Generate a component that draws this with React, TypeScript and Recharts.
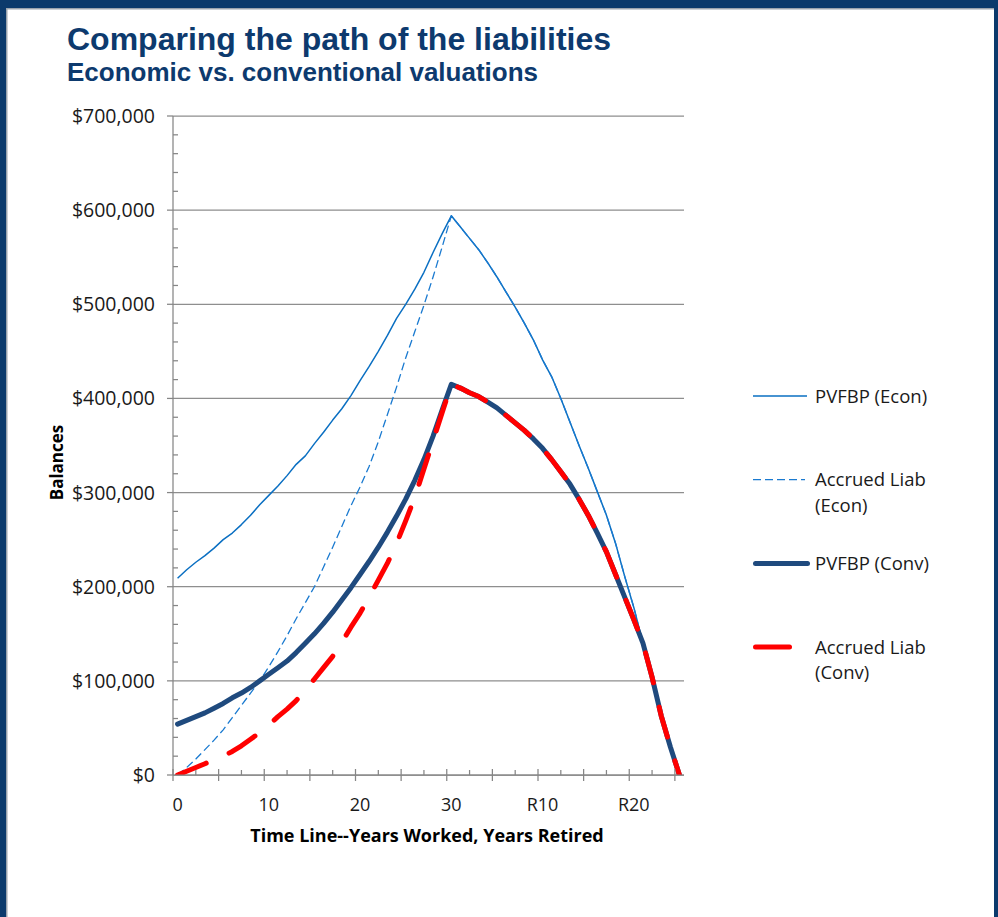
import React from 'react';
import { LineChart, Line, XAxis, YAxis, CartesianGrid } from 'recharts';

// ---------- data ----------
const categories = [
  '0','1','2','3','4','5','6','7','8','9','10','11','12','13','14','15','16','17','18','19','20',
  '21','22','23','24','25','26','27','28','29','30',
  'R1','R2','R3','R4','R5','R6','R7','R8','R9','R10','R11','R12','R13','R14','R15','R16','R17','R18','R19','R20',
  'R21','R22','R23','R24','R25',
];

const pvfbpEcon = [
  209000, 218000, 226000, 233000, 241000, 250000, 257000, 266000, 276000, 287000,
  297000, 307000, 318000, 330000, 339000, 352000, 364000, 377000, 389000, 403000,
  419000, 434000, 450000, 467000, 485000, 500000, 516000, 534000, 555000, 575000,
  594000, 582000, 570000, 558000, 544000, 529000, 513000, 497000, 480000, 462000,
  441000, 423000, 400000, 375000, 350000, 326000, 301000, 276000, 246000, 211000,
  178000, 140000, 104000, 63000, 30000, 0,
];

const accruedEcon = [
  0, 8000, 17000, 27000, 37000, 48000, 61000, 74000, 87000, 100000,
  115000, 131000, 148000, 166000, 183000, 200000, 221000, 242000, 264000, 286000,
  306000, 328000, 354000, 383000, 412000, 443000, 471000, 499000, 529000, 561000,
  594000, 582000, 570000, 558000, 544000, 529000, 513000, 497000, 480000, 462000,
  441000, 423000, 400000, 375000, 350000, 326000, 301000, 276000, 246000, 211000,
  178000, 140000, 104000, 63000, 30000, 0,
];

const pvfbpConv = [
  54000, 58000, 62000, 66000, 71000, 76000, 82000, 87000, 93000, 100000,
  107000, 114000, 121000, 130000, 140000, 150000, 161000, 173000, 186000, 199000,
  213000, 227000, 242000, 258000, 275000, 293000, 313000, 335000, 360000, 388000,
  415000, 411000, 406000, 402000, 396000, 390000, 382000, 374000, 366000, 357000,
  347000, 335000, 322000, 309000, 293000, 276000, 257000, 237000, 213000, 189000,
  165000, 140000, 104000, 63000, 30000, 0,
];

const accruedConv = [
  0, 4000, 8000, 12000, 16000, 20000, 25000, 31000, 38000, 45000,
  53000, 62000, 70000, 79000, 90000, 102000, 114000, 126000, 141000, 157000,
  172000, 189000, 207000, 225000, 246000, 270000, 295000, 325000, 355000, 385000,
  415000, 411000, 406000, 402000, 396000, 390000, 382000, 374000, 366000, 357000,
  347000, 335000, 322000, 309000, 293000, 276000, 257000, 237000, 213000, 189000,
  165000, 140000, 104000, 63000, 30000, 0,
];

// tick definitions
const yMajorTicks = [0, 100000, 200000, 300000, 400000, 500000, 600000, 700000];
const yTickLabels = ['$0', '$100,000', '$200,000', '$300,000', '$400,000', '$500,000', '$600,000', '$700,000'];
const yMinorTicks = [
  20000, 40000, 60000, 80000, 120000, 140000, 160000, 180000, 220000, 240000, 260000, 280000,
  320000, 340000, 360000, 380000, 420000, 440000, 460000, 480000, 520000, 540000, 560000, 580000,
  620000, 640000, 660000, 680000,
];
const xLabelPositions = [0, 10, 20, 30, 40, 50];
const xMajorMarks = [-0.5, 4.5, 9.5, 14.5, 19.5, 24.5, 29.5, 34.5, 39.5, 44.5, 49.5, 54.5];
const xMinorMarks = [2, 7, 12, 17, 22, 27, 32, 37, 42, 47, 52];

const seriesNames = ['PVFBP (Econ)', 'Accrued Liab (Econ)', 'PVFBP (Conv)', 'Accrued Liab (Conv)'];
const legendLines = [['PVFBP (Econ)'], ['Accrued Liab', '(Econ)'], ['PVFBP (Conv)'], ['Accrued Liab', '(Conv)']];

const data = categories.map((c, i) => ({
  x: i,
  cat: c,
  pvfbpEcon: pvfbpEcon[i],
  accruedEcon: accruedEcon[i],
  pvfbpConv: pvfbpConv[i],
  accruedConv: accruedConv[i],
}));

// ---------- styles ----------
const FONT = "'Open Sans', sans-serif";
const AXIS = '#868686';
const NAVY = '#0b3a6c';
const series = [
  { key: 'pvfbpEcon', color: '#0a6fc2', width: 1.5, dash: undefined as string | undefined, sampleLen: 54 },
  { key: 'accruedEcon', color: '#1a7ad0', width: 1.3, dash: '8 4', sampleLen: 52 },
  { key: 'pvfbpConv', color: '#1f4a7e', width: 5, dash: undefined, sampleLen: 52 },
  { key: 'accruedConv', color: '#ff0000', width: 5, dash: '31 25', sampleLen: 34 },
];

const allYTicks = [...yMajorTicks, ...yMinorTicks].sort((a, b) => a - b);
const allXTicks = [...xMajorMarks, ...xMinorMarks, ...xLabelPositions].sort((a, b) => a - b);

const YTick = (props: any) => {
  const { x, y, payload } = props;
  const v = payload.value;
  const mi = yMajorTicks.indexOf(v);
  if (mi >= 0) {
    return (
      <g>
        <line x1={x - 6} x2={x} y1={y} y2={y} stroke={AXIS} strokeWidth={1.25} />
        <text x={x - 18} y={y} dy="0.36em" textAnchor="end" fontFamily={FONT} fontSize={19.5} fill="#1a1a1a">
          {yTickLabels[mi]}
        </text>
      </g>
    );
  }
  return <line x1={x} x2={x + 5} y1={y} y2={y} stroke={AXIS} strokeWidth={1.25} />;
};

const XTick = (props: any) => {
  const { x, y, payload } = props;
  const v = payload.value;
  if (xLabelPositions.includes(v)) {
    return (
      <text x={x} y={y + 36} textAnchor="middle" fontFamily={FONT} fontSize={18} fill="#1a1a1a">
        {categories[v]}
      </text>
    );
  }
  if (xMajorMarks.includes(v)) {
    return <line x1={x} x2={x} y1={y - 6} y2={y + 6} stroke={AXIS} strokeWidth={1.25} />;
  }
  return <line x1={x} x2={x} y1={y - 5} y2={y} stroke={AXIS} strokeWidth={1.25} />;
};

export default function App() {
  return (
    <div style={{ position: 'fixed', left: 0, top: 0, width: 998, height: 917, overflow: 'hidden', background: '#fff' }}>
      <div style={{ position: 'absolute', left: 0, top: 0 }}>
        <LineChart
          width={998}
          height={917}
          data={data}
          margin={{ top: 116, right: 314, bottom: 92, left: 73 }}
        >
          <CartesianGrid horizontal vertical={false} horizontalValues={yMajorTicks} stroke="#8e8e8e" strokeWidth={1.25} />
          <XAxis
            dataKey="x"
            type="number"
            domain={[-0.5, 55.5]}
            ticks={allXTicks}
            interval={0}
            height={50}
            tickSize={0}
            tickMargin={0}
            tickLine={false}
            axisLine={{ stroke: AXIS, strokeWidth: 1.25 }}
            tick={<XTick />}
            allowDataOverflow
          />
          <YAxis
            type="number"
            domain={[0, 700000]}
            ticks={allYTicks}
            interval={0}
            width={100}
            tickSize={0}
            tickMargin={0}
            tickLine={false}
            axisLine={{ stroke: AXIS, strokeWidth: 1.25 }}
            tick={<YTick />}
            allowDataOverflow
          />
          {series.map((s, i) => (
            <Line
              key={s.key}
              dataKey={s.key}
              name={seriesNames[i]}
              type="linear"
              stroke={s.color}
              strokeWidth={s.width}
              strokeDasharray={s.dash}
              strokeLinecap={s.width > 3 ? 'round' : 'butt'}
              strokeLinejoin="round"
              dot={false}
              activeDot={false}
              isAnimationActive={false}
            />
          ))}
        </LineChart>
      </div>

      <svg width={998} height={917} style={{ position: 'absolute', left: 0, top: 0, pointerEvents: 'none' }}>
        <rect x={0} y={0} width={998} height={8} fill={NAVY} />
        <rect x={0} y={0} width={6} height={917} fill={NAVY} />
        <rect x={994} y={0} width={4} height={917} fill={NAVY} />
        <rect x={6} y={8} width={988} height={1.5} fill="#9aa3ad" />
        <rect x={6} y={8} width={1.5} height={909} fill="#9aa3ad" />

        <text x={67} y={50} fontFamily="'Liberation Sans', Arial, sans-serif" fontWeight="bold" fontSize={32} fill="#0d3a6e">
          Comparing the path of the liabilities
        </text>
        <text x={67} y={81} fontFamily="'Liberation Sans', Arial, sans-serif" fontWeight="bold" fontSize={26} fill="#0d3a6e">
          Economic vs. conventional valuations
        </text>
        <text
          transform="translate(63,462.5) rotate(-90)"
          textAnchor="middle"
          fontFamily={FONT}
          fontWeight="bold"
          fontSize={17}
          fill="#000"
        >
          Balances
        </text>
        <text x={427} y={842} textAnchor="middle" fontFamily={FONT} fontWeight="bold" fontSize={18} fill="#000">
          Time Line--Years Worked, Years Retired
        </text>

        {series.map((s, i) => {
          const cy = 396 + i * 83.7;
          const x0 = s.width > 3 ? 755.5 : 753;
          return (
            <g key={s.key}>
              <line
                x1={x0}
                x2={x0 + s.sampleLen}
                y1={cy}
                y2={cy}
                stroke={s.color}
                strokeWidth={s.width}
                strokeDasharray={s.key === 'accruedConv' ? undefined : s.dash}
                strokeLinecap={s.width > 3 ? 'round' : 'butt'}
              />
              {legendLines[i].map((t, j) => (
                <text key={j} x={815} y={cy + j * 25.5} dy="0.36em" fontFamily={FONT} fontSize={18.5} fill="#1a1a1a">
                  {t}
                </text>
              ))}
            </g>
          );
        })}
      </svg>
    </div>
  );
}
